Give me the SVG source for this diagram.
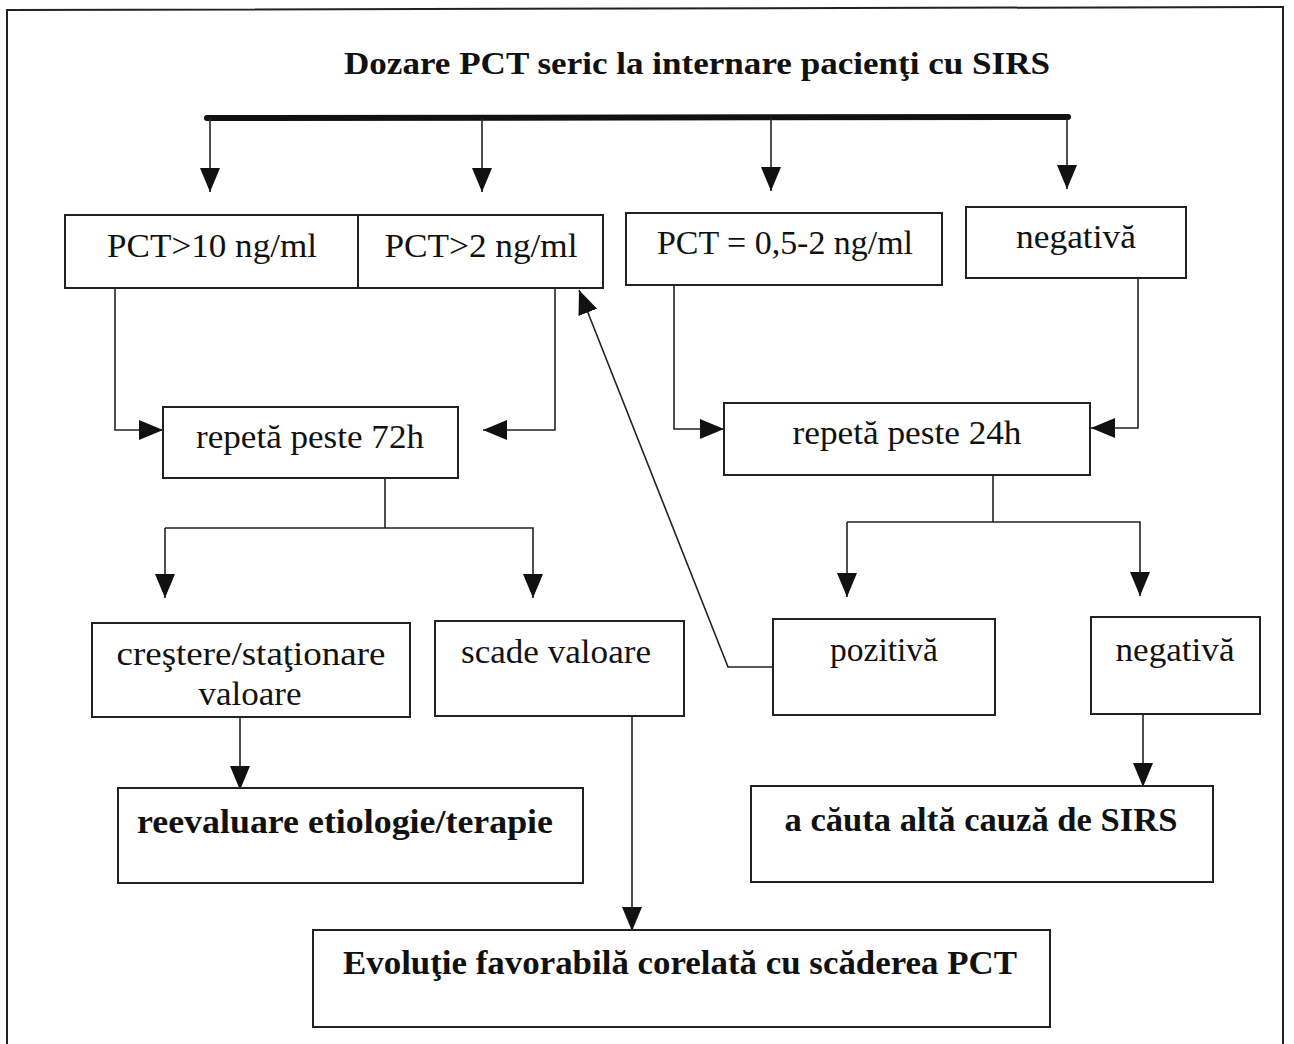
<svg xmlns="http://www.w3.org/2000/svg" width="1294" height="1044" viewBox="0 0 1294 1044">
<style>
.box{fill:#fff;stroke:#222;stroke-width:2}
.t{font-family:"Liberation Serif","Times New Roman",serif;font-size:33px;fill:#111;text-anchor:middle}
.b{font-weight:bold}
.ttl{font-size:31px}
.c{fill:none;stroke:#222;stroke-width:1.6}
</style>
<defs>
<marker id="ah" markerUnits="userSpaceOnUse" markerWidth="26" markerHeight="22" refX="24" refY="10" orient="auto">
<path d="M0,0 L24,10 L0,20 z" fill="#111"/>
</marker>
</defs>
<rect width="1294" height="1044" fill="#fff"/>
<path d="M7,1050 L7,10 L1283,7 L1283,1050" fill="none" stroke="#222" stroke-width="2"/>
<text class="t b ttl" x="697" y="74" textLength="706" lengthAdjust="spacingAndGlyphs">Dozare PCT seric la internare pacienţi cu SIRS</text>

<g id="connectors">
<line x1="207" y1="118" x2="1068" y2="117" stroke="#111" stroke-width="6" stroke-linecap="round"/>
<line class="c" x1="210" y1="118" x2="210" y2="192" marker-end="url(#ah)"/>
<line class="c" x1="482" y1="118" x2="482" y2="192" marker-end="url(#ah)"/>
<line class="c" x1="771" y1="118" x2="771" y2="191" marker-end="url(#ah)"/>
<line class="c" x1="1067" y1="118" x2="1067" y2="189" marker-end="url(#ah)"/>
<polyline class="c" points="115,288 115,430 163,430" marker-end="url(#ah)"/>
<polyline class="c" points="555,288 555,430 483,430" marker-end="url(#ah)"/>
<polyline class="c" points="674,285 674,429 724,429" marker-end="url(#ah)"/>
<polyline class="c" points="1138,278 1138,428 1091,428" marker-end="url(#ah)"/>
<line class="c" x1="385" y1="478" x2="385" y2="528"/>
<polyline class="c" points="165,528 533,528 533,598" marker-end="url(#ah)"/>
<line class="c" x1="165" y1="528" x2="165" y2="598" marker-end="url(#ah)"/>
<line class="c" x1="993" y1="475" x2="993" y2="522"/>
<polyline class="c" points="847,522 1140,522 1140,596" marker-end="url(#ah)"/>
<line class="c" x1="847" y1="522" x2="847" y2="597" marker-end="url(#ah)"/>
<polyline class="c" points="773,667 728,667 579,290" marker-end="url(#ah)"/>
<line class="c" x1="240" y1="717" x2="240" y2="790" marker-end="url(#ah)"/>
<line class="c" x1="632" y1="716" x2="632" y2="931" marker-end="url(#ah)"/>
<line class="c" x1="1143" y1="714" x2="1143" y2="787" marker-end="url(#ah)"/>
</g>

<g id="n-pct10">
<rect class="box" x="65" y="215" width="293" height="73"/>
<text class="t" x="212" y="257" textLength="210" lengthAdjust="spacingAndGlyphs">PCT&gt;10 ng/ml</text>
</g>
<g id="n-pct2">
<rect class="box" x="358" y="215" width="245" height="73"/>
<text class="t" x="481" y="257" textLength="193" lengthAdjust="spacingAndGlyphs">PCT&gt;2 ng/ml</text>
</g>
<g id="n-pct05">
<rect class="box" x="626" y="213" width="316" height="72"/>
<text class="t" x="785" y="254" textLength="256" lengthAdjust="spacingAndGlyphs">PCT = 0,5-2 ng/ml</text>
</g>
<g id="n-neg1">
<rect class="box" x="966" y="207" width="220" height="71"/>
<text class="t" x="1076" y="248" textLength="120" lengthAdjust="spacingAndGlyphs">negativă</text>
</g>
<g id="n-rep72">
<rect class="box" x="163" y="407" width="295" height="71"/>
<text class="t" x="310" y="448" textLength="228" lengthAdjust="spacingAndGlyphs">repetă peste 72h</text>
</g>
<g id="n-rep24">
<rect class="box" x="724" y="403" width="366" height="72"/>
<text class="t" x="907" y="444" textLength="229" lengthAdjust="spacingAndGlyphs">repetă peste 24h</text>
</g>
<g id="n-crest">
<rect class="box" x="92" y="623" width="318" height="94"/>
<text class="t" x="251" y="665" textLength="269" lengthAdjust="spacingAndGlyphs">creştere/staţionare</text>
<text class="t" x="250" y="705" textLength="103" lengthAdjust="spacingAndGlyphs">valoare</text>
</g>
<g id="n-scade">
<rect class="box" x="435" y="621" width="249" height="95"/>
<text class="t" x="556" y="663" textLength="190" lengthAdjust="spacingAndGlyphs">scade valoare</text>
</g>
<g id="n-poz">
<rect class="box" x="773" y="619" width="222" height="96"/>
<text class="t" x="884" y="661" textLength="108" lengthAdjust="spacingAndGlyphs">pozitivă</text>
</g>
<g id="n-neg2">
<rect class="box" x="1091" y="617" width="169" height="97"/>
<text class="t" x="1175" y="661" textLength="119" lengthAdjust="spacingAndGlyphs">negativă</text>
</g>
<g id="n-reev">
<rect class="box" x="118" y="788" width="465" height="95"/>
<text class="t b" x="345" y="833" textLength="416" lengthAdjust="spacingAndGlyphs">reevaluare etiologie/terapie</text>
</g>
<g id="n-cauta">
<rect class="box" x="751" y="786" width="462" height="96"/>
<text class="t b" x="981" y="831" textLength="393" lengthAdjust="spacingAndGlyphs">a căuta altă cauză de SIRS</text>
</g>
<g id="n-evol">
<rect class="box" x="313" y="930" width="737" height="97"/>
<text class="t b" x="680" y="974" textLength="674" lengthAdjust="spacingAndGlyphs">Evoluţie favorabilă corelată cu scăderea PCT</text>
</g>
</svg>
